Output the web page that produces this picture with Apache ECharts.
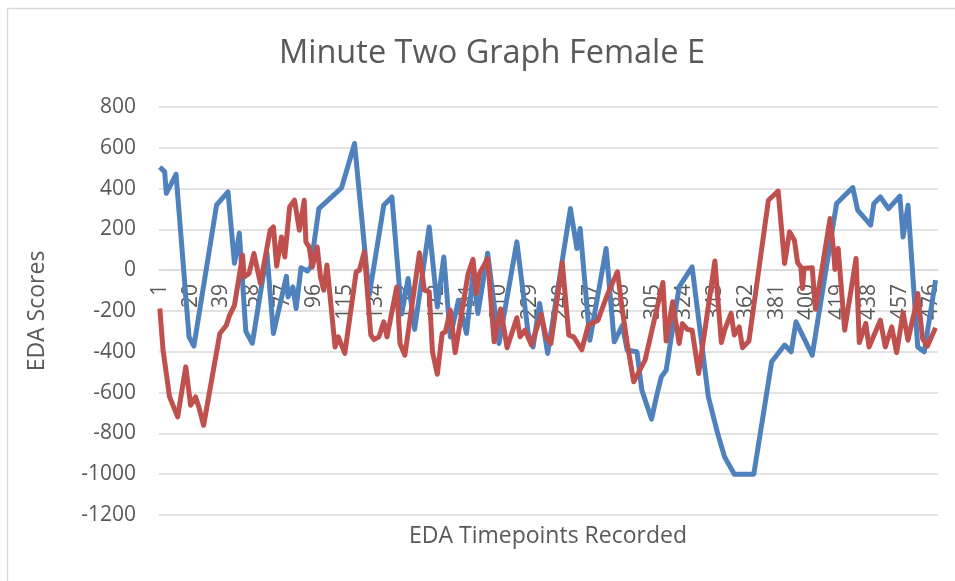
<!DOCTYPE html>
<html>
<head>
<meta charset="utf-8">
<script src="https://cdn.jsdelivr.net/npm/echarts@6/dist/echarts.min.js"></script>
<style>
  html, body { margin: 0; padding: 0; background: #fff; }
  #chart { width: 955px; height: 581px; }
</style>
</head>
<body>
<div id="chart"></div>
<script>
// timepoint / EDA score pairs (vertices of each line)
var blueT = [1, 4, 5, 11, 19, 22, 36, 43, 47, 50, 54, 58, 67, 71, 79, 80, 83, 85, 88, 92, 94, 99, 113, 121,
    130, 139, 144, 150, 154, 158, 167, 172, 176, 180, 185, 190, 194, 197, 203, 210, 221, 228, 231, 235, 240,
    254, 258, 260, 266, 276, 281, 286, 289, 295, 298, 304, 307, 310, 313, 321, 329, 339, 345, 349, 355, 367,
    378, 386, 390, 393, 396, 403, 418, 428, 431, 439, 441, 445, 450, 457, 459, 462, 468, 472, 479];
var blueV = [506, 482, 377, 470, -327, -372, 320, 384, 34, 182, -300, -358, 85, -310, -30, -131, -82, -188, 12, -4, 16, 302, 404, 621,
    -125, 318, 359, -215, -41, -290, 212, -180, 65, -327, -147, -310, -16, -212, 83, -359, 139, -310, -376, -163, -408,
    302, 106, 204, -343, 106, -351, -270, -392, -400, -588, -730, -621, -523, -490, -82, 16, -621, -808, -915, -1000, -1000,
    -449, -367, -400, -253, -302, -417, 327, 405, 294, 221, 327, 359, 302, 363, 163, 318, -376, -400, -49];

var redT = [1, 3, 7, 12, 17, 20, 23, 25, 28, 38, 42, 44, 47, 52, 53, 56, 59, 63, 69, 71, 73, 76, 78, 81, 84, 87, 90, 91, 93, 95,
    98, 100, 102, 104, 109, 111, 115, 122, 124, 127, 131, 133, 136, 139, 141, 147, 149, 152, 161, 164, 167, 169, 172, 175,
    177, 180, 183, 191, 194, 196, 198, 203, 207, 211, 215, 221, 223, 226, 230, 236, 239, 242, 249, 253, 256, 261, 265, 271,
    277, 283, 286, 289, 293, 300, 311, 313, 317, 321, 323, 326, 329, 333, 343, 347, 349, 353, 355, 358, 360, 364, 376, 382,
    386, 389, 392, 394, 396, 397, 398, 403, 405, 414, 416, 417, 419, 423, 430, 432, 436, 438, 445, 448, 452, 455, 459, 462,
    466, 468, 471, 474, 479];
var redV = [-188, -392, -621, -719, -474, -662, -621, -670, -760, -310, -270, -221, -172, 73, -33, -16, 82, -65, 196, 212, 20, 163, 65, 310, 343, 196, 343, 139, 114, 16,
    114, -33, -98, 25, -376, -327, -408, -8, 0, 90, -318, -340, -327, -253, -327, -82, -359, -417, 85, -98, -106, -400, -510, -310,
    -302, -196, -404, -16, 53, -114, -16, 57, -351, -190, -380, -233, -327, -294, -367, -216, -327, -359, 37, -318, -327, -390, -270, -245,
    -115, -8, -196, -359, -547, -441, -60, -347, -155, -359, -262, -290, -294, -506, 45, -355, -294, -212, -318, -278, -380, -347, 343, 388,
    33, 188, 147, 37, 16, -90, 10, 12, -192, 253, 110, 4, 106, -294, 57, -355, -261, -376, -245, -376, -278, -404, -208, -343,
    -204, -114, -335, -372, -282];

var nPoints = 480;
var yTicks = { min: -1200, max: 800, step: 200 };

var categories = [];
for (var i = 1; i <= nPoints; i++) {
    categories.push(String(i));
}

function pairs(t, v) {
    var out = [];
    for (var k = 0; k < t.length; k++) {
        out.push([t[k] - 1, v[k]]);   // category index is 0-based
    }
    return out;
}

var chart = echarts.init(document.getElementById('chart'));
var textColor = '#595959';
var font = '"Open Sans", "Noto Sans", sans-serif';

// grid: top 107 (800) .. bottom 515 (-1200); zero sits at 270
var gridTop = 107, gridBottom = 66;
var zeroOffset = -(515 - 270);

var option = {
    animation: false,
    backgroundColor: '#ffffff',
    title: {
        text: 'Minute Two Graph Female E',
        left: 487,
        top: 32,
        textAlign: 'center',
        textStyle: { color: textColor, fontSize: 32.5, fontWeight: 'normal', fontFamily: font }
    },
    graphic: [{
        type: 'rect',
        shape: { x: 7.5, y: 8.5, width: 1000, height: 1000 },
        style: { fill: null, stroke: '#d9d9d9', lineWidth: 1.5 },
        silent: true
    }, {
        type: 'text',
        x: 548,
        y: 536,
        style: {
            text: 'EDA Timepoints Recorded',
            fill: textColor,
            font: '23px ' + font,
            textAlign: 'center',
            textVerticalAlign: 'middle'
        }
    }],
    grid: {
        left: 159,
        right: 17,
        top: gridTop,
        bottom: gridBottom,
        containLabel: false
    },
    xAxis: {
        type: 'category',
        boundaryGap: true,
        data: categories,
        offset: zeroOffset,
        axisLine: { onZero: false, lineStyle: { color: '#d9d9d9', width: 1.5 } },
        axisTick: { show: false },
        axisLabel: {
            interval: 18,
            rotate: 90,
            margin: 14,
            color: textColor,
            fontSize: 21,
            fontFamily: font
        },
        splitLine: { show: false }
    },
    yAxis: {
        type: 'value',
        min: yTicks.min,
        max: yTicks.max,
        interval: yTicks.step,
        name: 'EDA Scores',
        nameLocation: 'middle',
        nameGap: 110,
        nameTextStyle: { color: textColor, fontSize: 23, fontFamily: font },
        axisLine: { show: false },
        axisTick: { show: false },
        axisLabel: {
            color: textColor, fontSize: 21, margin: 23, fontFamily: font,
            formatter: function (v) { return String(v); }
        },
        splitLine: { lineStyle: { color: '#d9d9d9', width: 1.5 } }
    },
    series: [{
        name: 'Blue',
        type: 'line',
        data: pairs(blueT, blueV),
        showSymbol: false,
        lineStyle: { color: '#4f81bd', width: 5, join: 'round' },
        itemStyle: { color: '#4f81bd' }
    }, {
        name: 'Red',
        type: 'line',
        data: pairs(redT, redV),
        showSymbol: false,
        lineStyle: { color: '#c0504d', width: 5, join: 'round' },
        itemStyle: { color: '#c0504d' }
    }]
};

chart.setOption(option);
</script>
</body>
</html>
